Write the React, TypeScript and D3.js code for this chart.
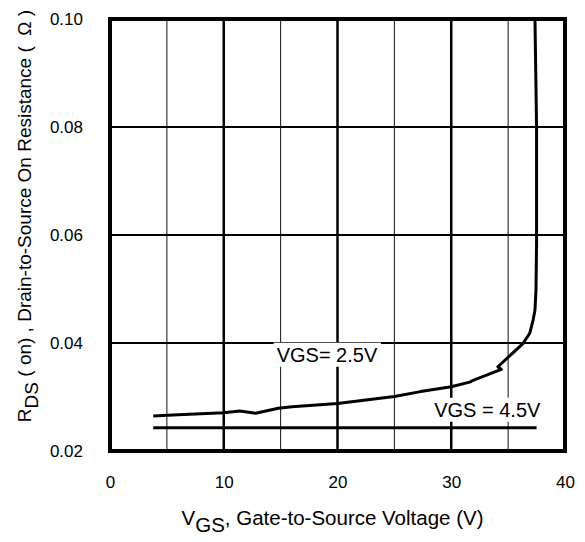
import React, { useEffect, useRef } from "react";
import * as d3 from "d3";

// VGS = 2.5V curve
const vgs25: [number, number][] = [
  [3.8, 0.0265],
  [6, 0.0267],
  [8, 0.0269],
  [10, 0.0271],
  [11.4, 0.0274],
  [12.8, 0.027],
  [14.8, 0.0279],
  [16, 0.0282],
  [20, 0.0288],
  [25, 0.0301],
  [27.3, 0.031],
  [30, 0.0319],
  [31.7, 0.0328],
  [31.8, 0.033],
  [34.4, 0.0351],
  [34.1, 0.0356],
  [36.3, 0.0399],
  [36.9, 0.0418],
  [37.2, 0.0443],
  [37.36, 0.0461],
  [37.45, 0.0498],
  [37.5, 0.0585],
  [37.5, 0.08],
  [37.36, 0.1],
];

// VGS = 4.5V curve
const vgs45: [number, number][] = [
  [3.8, 0.0243],
  [37.5, 0.0243],
];

const xTicks = [0, 10, 20, 30, 40];
const yTicks = [0.02, 0.04, 0.06, 0.08, 0.1];
const xGridThick = [10, 20, 30];
const xGridThin = [5, 15, 25, 35];
const yGrid = [0.04, 0.06, 0.08];

const labels = [
  { text: "VGS= 2.5V", x: 14.65, y: 0.03654 },
  { text: "VGS = 4.5V", x: 28.5, y: 0.02634 },
];

const font = "Arial, 'Liberation Sans', sans-serif";

const App = () => {
  const svgRef = useRef<SVGSVGElement>(null);

  useEffect(() => {
    if (!svgRef.current) return;
    document.body.style.margin = "0";

    const width = 585;
    const height = 542;
    const margin = { top: 19, right: 20, bottom: 91, left: 110 };
    const innerWidth = width - margin.left - margin.right;
    const innerHeight = height - margin.top - margin.bottom;

    const svg = d3.select(svgRef.current).attr("width", width).attr("height", height);
    svg.selectAll("*").remove();

    const x = d3.scaleLinear().domain([0, 40]).range([0, innerWidth]);
    const y = d3.scaleLinear().domain([0.02, 0.1]).range([innerHeight, 0]);

    const g = svg.append("g").attr("transform", `translate(${margin.left},${margin.top})`);

    // grid
    g.selectAll(".vthin")
      .data(xGridThin)
      .enter()
      .append("line")
      .attr("x1", (d) => x(d))
      .attr("x2", (d) => x(d))
      .attr("y1", 0)
      .attr("y2", innerHeight)
      .attr("stroke", "#111")
      .attr("stroke-width", 1);

    g.selectAll(".vthick")
      .data(xGridThick)
      .enter()
      .append("line")
      .attr("x1", (d) => x(d))
      .attr("x2", (d) => x(d))
      .attr("y1", 0)
      .attr("y2", innerHeight)
      .attr("stroke", "#000")
      .attr("stroke-width", 2.5);

    g.selectAll(".hgrid")
      .data(yGrid)
      .enter()
      .append("line")
      .attr("x1", 0)
      .attr("x2", innerWidth)
      .attr("y1", (d) => y(d))
      .attr("y2", (d) => y(d))
      .attr("stroke", "#000")
      .attr("stroke-width", 2.2);

    // curves
    const line = d3
      .line<[number, number]>()
      .x((d) => x(d[0]))
      .y((d) => y(d[1]));

    [vgs25, vgs45].forEach((data) => {
      g.append("path")
        .datum(data)
        .attr("fill", "none")
        .attr("stroke", "#000")
        .attr("stroke-width", 3)
        .attr("stroke-linejoin", "round")
        .attr("d", line);
    });

    // curve labels with white backing
    labels.forEach((l) => {
      const t = g
        .append("text")
        .attr("x", x(l.x))
        .attr("y", y(l.y))
        .style("font-family", font)
        .style("font-size", "20px")
        .text(l.text);
      const bb = (t.node() as SVGTextElement).getBBox();
      g.insert("rect", "text")
        .attr("x", bb.x - 3)
        .attr("y", bb.y - 1)
        .attr("width", bb.width + 6)
        .attr("height", bb.height + 2)
        .attr("fill", "#fff");
    });

    // frame
    g.append("rect")
      .attr("width", innerWidth)
      .attr("height", innerHeight)
      .attr("fill", "none")
      .attr("stroke", "#000")
      .attr("stroke-width", 4);

    // axes (labels only)
    const xAxis = g
      .append("g")
      .attr("transform", `translate(0,${innerHeight})`)
      .call(d3.axisBottom(x).tickValues(xTicks).tickSize(0).tickPadding(25));
    xAxis.select(".domain").remove();
    xAxis.selectAll("text").style("font-family", font).style("font-size", "17px").attr("fill", "#000");

    const yAxis = g
      .append("g")
      .call(
        d3
          .axisLeft(y)
          .tickValues(yTicks)
          .tickSize(0)
          .tickPadding(27)
          .tickFormat((d) => d3.format(".2f")(d as number))
      );
    yAxis.select(".domain").remove();
    yAxis.selectAll("text").style("font-family", font).style("font-size", "17px").attr("fill", "#000");

    // x axis title
    const xt = svg
      .append("text")
      .attr("x", margin.left + innerWidth / 2 - 5)
      .attr("y", 525)
      .attr("text-anchor", "middle")
      .style("font-family", font)
      .style("font-size", "20.5px");
    xt.append("tspan").text("V");
    xt.append("tspan").attr("dy", 7).text("GS");
    xt.append("tspan").attr("dy", -7).text(", Gate-to-Source Voltage (V)");

    // y axis title
    const yt = svg
      .append("text")
      .attr("transform", `translate(31,${margin.top + 197}) rotate(-90)`)
      .attr("text-anchor", "middle")
      .style("font-family", font)
      .style("font-size", "19px")
      .style("white-space", "pre");
    yt.append("tspan").text("R");
    yt.append("tspan").attr("dy", 7).text("DS");
    yt.append("tspan").attr("dy", -7).text(" ( on) , Drain-to-Source On Resistance (  \u03A9 )");
  }, []);

  return <svg ref={svgRef}></svg>;
};

export default App;
